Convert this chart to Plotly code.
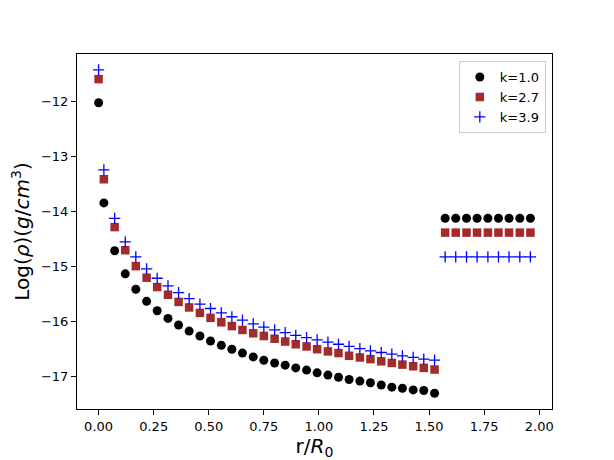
import plotly.graph_objects as go

# radial positions r/R0 (shared by all three series)
r = [0.000, 0.024, 0.073, 0.121, 0.169, 0.218, 0.266, 0.315, 0.363, 0.411,
     0.460, 0.508, 0.557, 0.605, 0.653, 0.702, 0.750, 0.799, 0.847, 0.895,
     0.944, 0.992, 1.041, 1.089, 1.137, 1.186, 1.234, 1.283, 1.331, 1.379,
     1.428, 1.476, 1.525,
     1.573, 1.621, 1.670, 1.718, 1.767, 1.815, 1.863, 1.912, 1.960]

# log density for each k
rho_k10 = [-12.02, -13.84, -14.71, -15.13, -15.41, -15.63, -15.80, -15.94, -16.06, -16.17,
           -16.26, -16.35, -16.43, -16.50, -16.57, -16.64, -16.70, -16.75, -16.79, -16.84,
           -16.88, -16.93, -16.97, -17.01, -17.05, -17.08, -17.11, -17.15, -17.19, -17.21,
           -17.24, -17.25, -17.30,
           -14.12, -14.12, -14.12, -14.12, -14.12, -14.12, -14.12, -14.12, -14.12]
rho_k27 = [-11.59, -13.41, -14.28, -14.70, -14.99, -15.20, -15.37, -15.51, -15.64, -15.74,
           -15.84, -15.93, -16.01, -16.08, -16.15, -16.21, -16.26, -16.31, -16.36, -16.41,
           -16.45, -16.50, -16.54, -16.57, -16.62, -16.65, -16.68, -16.72, -16.75, -16.78,
           -16.81, -16.84, -16.87,
           -14.38, -14.38, -14.38, -14.38, -14.38, -14.38, -14.38, -14.38, -14.38]
rho_k39 = [-11.42, -13.24, -14.12, -14.55, -14.82, -15.04, -15.21, -15.35, -15.47, -15.58,
           -15.68, -15.76, -15.84, -15.91, -15.97, -16.04, -16.10, -16.15, -16.20, -16.25,
           -16.29, -16.33, -16.37, -16.41, -16.45, -16.49, -16.53, -16.56, -16.59, -16.62,
           -16.65, -16.68, -16.70,
           -14.82, -14.82, -14.82, -14.82, -14.82, -14.82, -14.82, -14.82, -14.82]

fonte = "DejaVu Sans"

fig = go.Figure()

fig.add_trace(go.Scatter(x=r, y=rho_k10, mode="markers", name="k=1.0",
                         marker=dict(symbol="circle", size=9, color="black")))
fig.add_trace(go.Scatter(x=r, y=rho_k27, mode="markers", name="k=2.7",
                         marker=dict(symbol="square", size=8.5, color="#a52a2a")))
fig.add_trace(go.Scatter(x=r, y=rho_k39, mode="markers", name="k=3.9",
                         marker=dict(symbol="cross-thin", size=8,
                                     line=dict(color="blue", width=1.3))))

eixo = dict(showline=True, linecolor="black", linewidth=1, mirror=True,
            ticks="outside", ticklen=5, tickcolor="black", showgrid=False,
            zeroline=False, automargin=False,
            tickfont=dict(family=fonte, size=13, color="black"))

# the page body adds 8px on top/left, so the figure is 8px smaller
fig.update_layout(
    width=606, height=452,
    margin=dict(l=69, r=62, t=46, b=51),
    paper_bgcolor="white", plot_bgcolor="white",
    font=dict(family=fonte, color="black"),
    xaxis=dict(eixo, range=[-0.098, 2.058], tickvals=[0, 0.25, 0.5, 0.75, 1.0, 1.25, 1.5, 1.75, 2.0],
               tickformat=".2f",
               title=dict(text="r/<i>R</i><sub>0</sub>", font=dict(size=20), standoff=0)),
    yaxis=dict(eixo, range=[-17.587, -11.133], tickvals=[-17, -16, -15, -14, -13, -12],
               title=dict(text="Log(<i>ρ</i>)(<i>g</i>/<i>cm</i><sup>3</sup>)", font=dict(size=20), standoff=8)),
    showlegend=True,
    legend=dict(x=0.987, y=0.98, xanchor="right", yanchor="top",
                bordercolor="#cccccc", borderwidth=1, bgcolor="white",
                font=dict(family=fonte, size=13)),
)

fig.write_html("out.html")
